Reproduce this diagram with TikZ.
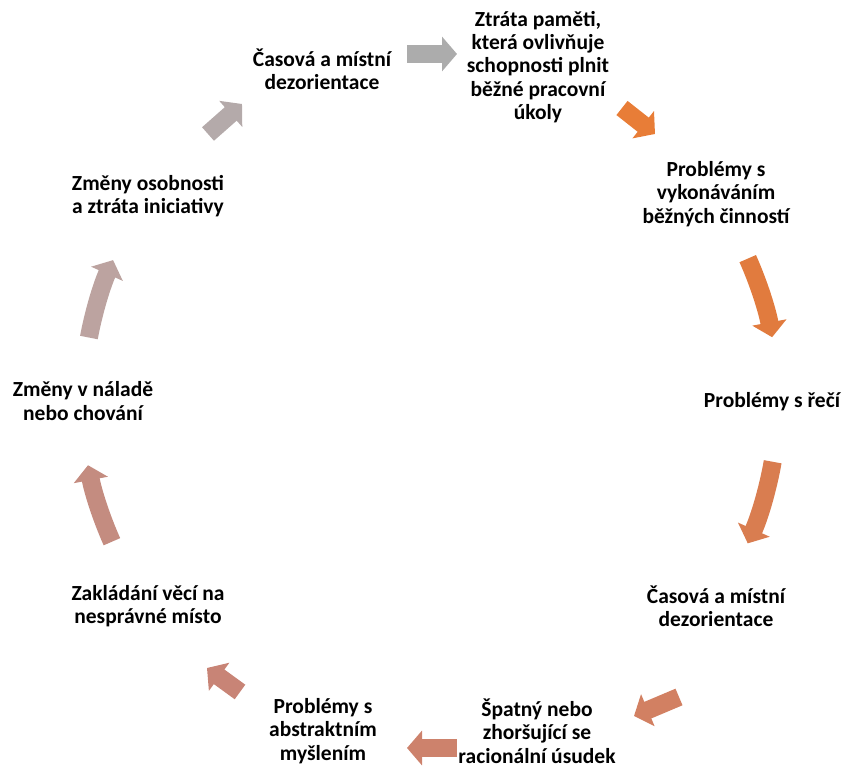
\documentclass[tikz,border=0pt]{standalone}
\usepackage{fontspec}
\setmainfont{Carlito}
\usetikzlibrary{arrows.meta}
\definecolor{a1}{RGB}{232,125,55}
\definecolor{a2}{RGB}{225,123,62}
\definecolor{a3}{RGB}{217,125,80}
\definecolor{a4}{RGB}{210,128,98}
\definecolor{a5}{RGB}{205,130,108}
\definecolor{a6}{RGB}{200,132,118}
\definecolor{a7}{RGB}{196,140,128}
\definecolor{a8}{RGB}{188,163,160}
\definecolor{a9}{RGB}{180,170,170}
\definecolor{a10}{RGB}{172,172,172}
\tikzset{
  lbl/.style={align=center, font=\bfseries\fontsize{21.5}{23.3}\selectfont, text=black, inner sep=0pt},
  blk/.style={line width=18pt, -{Triangle[width=34pt,length=15pt]}},
}
\begin{document}
\begin{tikzpicture}[x=1pt,y=1pt]
\useasboundingbox (0,0) rectangle (855,767);
\coordinate (O) at (428,366);
% nodes
\node[lbl] (n1) at (322,698) {Časová a místní\\dezorientace};
\node[lbl] (n2) at (538,700) {Ztráta paměti,\\která ovlivňuje\\schopnosti plnit\\běžné pracovní\\úkoly};
\node[lbl] (n3) at (716,573) {Problémy s\\vykonáváním\\běžných činností};
\node[lbl] (n4) at (772,365) {Problémy s řečí};
\node[lbl] (n5) at (716,161) {Časová a místní\\dezorientace};
\node[lbl] (n6) at (537,36) {Špatný nebo\\zhoršující se\\racionální úsudek};
\node[lbl] (n7) at (323,36) {Problémy s\\abstraktním\\myšlením};
\node[lbl] (n8) at (148,161) {Zakládání věcí na\\nesprávné místo};
\node[lbl] (n9) at (83,366) {Změny v náladě\\nebo chování};
\node[lbl] (n10) at (148,571) {Změny osobnosti\\a ztráta iniciativy};
% arrows
\coordinate (s2) at (622,659); \coordinate (e2) at (655,633);
\draw[blk,a1] (s2) -- (e2);
\coordinate (s3) at ([shift={(24:350)}]O);
\draw[blk,a2] (s3) arc[start angle=24,end angle=10.5,radius=350];
\coordinate (s4) at ([shift={(-10:350)}]O);
\draw[blk,a3] (s4) arc[start angle=-10,end angle=-24,radius=350];
\coordinate (s5) at (679,70); \coordinate (e5) at (634,51);
\draw[blk,a4] (s5) -- (e5);
\coordinate (s6) at (457,19); \coordinate (e6) at (407,19);
\draw[blk,a5] (s6) -- (e6);
\coordinate (s7) at (240,75); \coordinate (e7) at (207,99);
\draw[blk,a6] (s7) -- (e7);
\coordinate (s8) at ([shift={(204:346)}]O);
\draw[blk,a7] (s8) arc[start angle=204,end angle=190.7,radius=346];
\coordinate (s9) at ([shift={(169.4:345)}]O);
\draw[blk,a8] (s9) arc[start angle=169.4,end angle=155.9,radius=345];
\coordinate (s10) at (208,633); \coordinate (e10) at (242,663);
\draw[blk,a9] (s10) -- (e10);
\coordinate (s1) at (407,713); \coordinate (e1) at (457,713);
\draw[blk,a10] (s1) -- (e1);
\end{tikzpicture}
\end{document}
